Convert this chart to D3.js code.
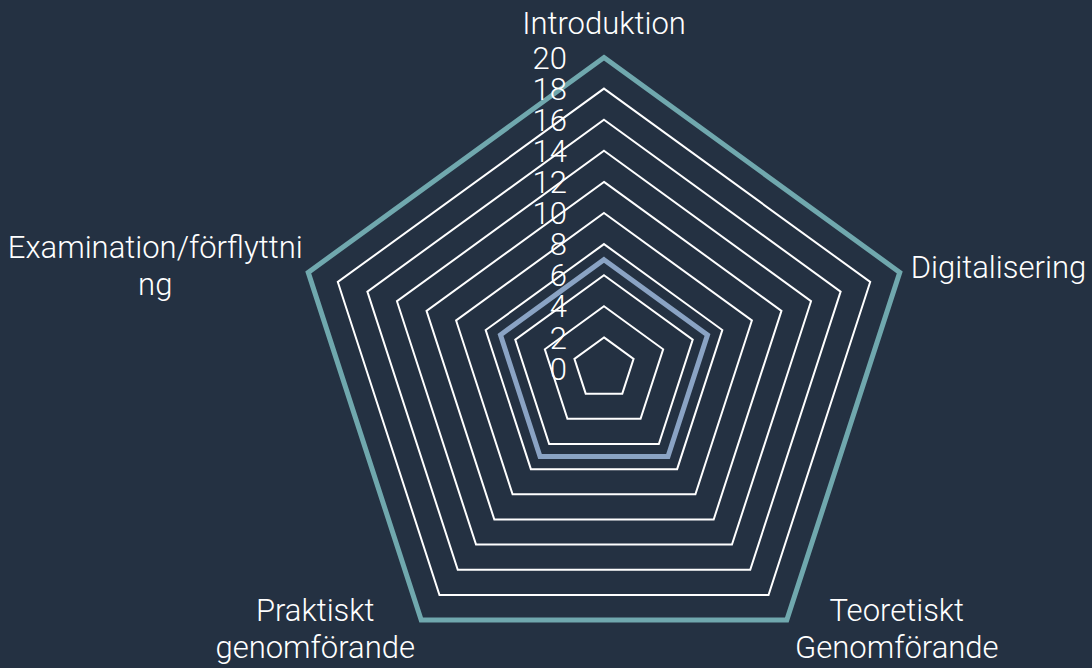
<!DOCTYPE html>
<html>
<head>
<meta charset="utf-8">
<script src="https://cdn.jsdelivr.net/npm/d3@7"></script>
<style>
    html, body { margin: 0; padding: 0; background: #243142; }
    svg { display: block; }
    text { font-family: Roboto, 'Open Sans', sans-serif; font-weight: 300; fill: #ffffff; }
</style>
</head>
<body>
<svg id="radar" width="1092" height="668"></svg>
<script>
'use strict';

// categories, clockwise from the top (\n = line break as in the picture)
const categories = ['Introduktion', 'Digitalisering', 'Teoretiskt\nGenomförande',
                    'Praktiskt\ngenomförande', 'Examination/förflyttni\nng'];
const seriesOuter = [20, 20, 20, 20, 20];
const seriesInner = [7, 7, 7, 7, 7];
const tickValues = [0, 2, 4, 6, 8, 10, 12, 14, 16, 18, 20];

const cx = 604, cy = 368.5, radius = 311;

function point(i, v, r) {
    const a = i * 2 * Math.PI / categories.length;
    return [cx + r(v) * Math.sin(a), cy - r(v) * Math.cos(a)];
}

function radar() {
    const svg = d3.select('#radar');
    const r = d3.scaleLinear().domain([0, 20]).range([0, radius]);
    const line = d3.line();

    // grid rings
    svg.append('g')
        .selectAll('path')
        .data(tickValues.filter(function(d) {return d > 0;}))
        .enter()
        .append('path')
        .attr('d', function(d) {
            return line(categories.map(function(c, i) {return point(i, d, r);})) + 'Z';
        })
        .attr('fill', 'none')
        .attr('stroke', '#ffffff')
        .attr('stroke-width', 2);

    // series
    const series = [
        {values: seriesOuter, color: '#70a8ae'},
        {values: seriesInner, color: '#8aa3c4'}
    ];
    svg.append('g')
        .selectAll('path')
        .data(series)
        .enter()
        .append('path')
        .attr('d', function(d) {
            return line(d.values.map(function(v, i) {return point(i, v, r);})) + 'Z';
        })
        .attr('fill', 'none')
        .attr('stroke', function(d) {return d.color;})
        .attr('stroke-width', 5)
        .attr('stroke-linejoin', 'miter');

    // tick labels
    svg.append('g')
        .selectAll('text')
        .data(tickValues)
        .enter()
        .append('text')
        .attr('x', cx - 37)
        .attr('y', function(d) {return cy - r(d);})
        .attr('dy', '0.36em')
        .attr('text-anchor', 'end')
        .style('font-size', '31px')
        .text(function(d) {return d;});

    // category labels
    const labels = svg.append('g')
        .selectAll('text')
        .data(categories)
        .enter()
        .append('text')
        .style('font-size', '31px')
        .attr('text-anchor', function(d, i) {return i === 1 ? 'start' : 'middle';})
        .attr('transform', function(d, i) {
            const p = point(i, 20, r);
            let x = p[0], y = p[1];
            if (i === 0) { y -= 24; }
            else if (i === 1) { x += 11; y += 6; }
            else if (i === 2) { x += 110; y += 1; }
            else if (i === 3) { x -= 106; y += 1; }
            else { x -= 153; y -= 14; }
            return 'translate(' + x + ',' + y + ')';
        });

    labels.selectAll('tspan')
        .data(function(d) {return d.split('\n');})
        .enter()
        .append('tspan')
        .attr('x', 0)
        .attr('y', function(d, j) {return j * 37;})
        .text(function(d) {return d;});
}

radar();
</script>
</body>
</html>
